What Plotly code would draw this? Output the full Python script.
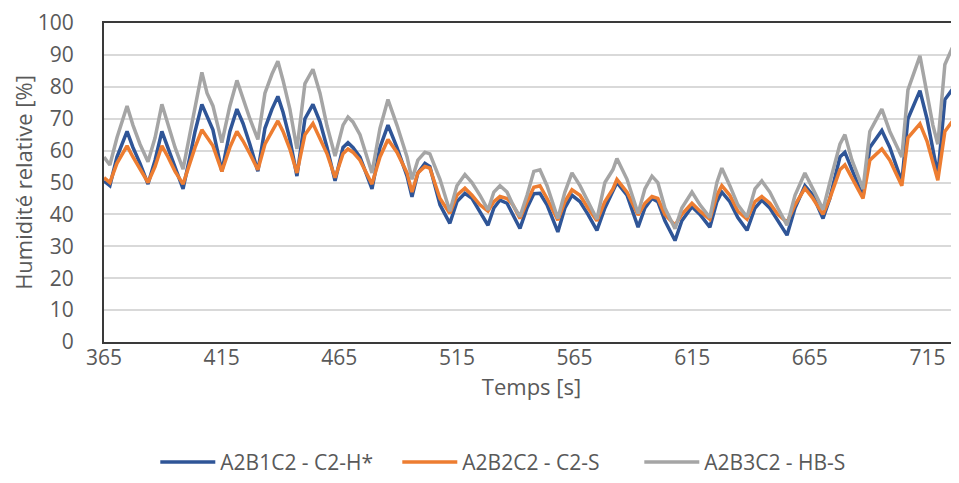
import plotly.graph_objects as go

temps = [365.0, 367.5, 370.5, 374.8, 377.3, 380.3, 383.7, 386.7, 389.6, 392.2,
         395.2, 398.6, 401.5, 403.7, 406.6, 408.8, 411.3, 415.1, 418.5, 421.5,
         424.1, 427.0, 430.4, 433.4, 436.4, 438.9, 441.1, 444.0, 447.0, 450.4,
         453.8, 456.8, 459.8, 463.2, 466.6, 468.7, 470.8, 473.8, 478.9, 482.3,
         485.7, 489.5, 493.8, 495.9, 498.4, 501.4, 503.5, 507.8, 512.0, 515.0,
         518.4, 521.4, 524.8, 528.2, 530.7, 533.3, 536.3, 538.8, 541.8, 544.8,
         547.7, 550.3, 553.3, 557.9, 560.9, 563.9, 567.3, 570.7, 574.5, 577.9,
         581.3, 583.0, 587.3, 592.0, 594.9, 597.9, 600.4, 603.4, 607.7, 610.6,
         614.9, 618.3, 622.5, 625.5, 627.6, 631.0, 634.4, 638.3, 641.7, 644.6,
         648.0, 651.4, 655.3, 658.7, 662.9, 666.3, 670.6, 673.5, 677.8, 679.9,
         682.9, 687.6, 690.5, 695.6, 699.0, 704.1, 706.7, 711.8, 714.8, 717.3,
         719.4, 722.4, 725.4, 728.4]

hr_a2b1c2 = [50.5, 49, 58, 66, 61, 56, 49.5, 57, 66, 61,
             55, 48, 58, 66, 74.5, 71, 66.5, 53.5, 66, 73,
             68.5, 62, 53.5, 67, 73, 77, 72, 63.5, 52, 70,
             74.5, 69, 61, 50.5, 61, 62.5, 61, 58, 48, 61,
             68, 61, 52, 45.5, 53, 56, 55, 43, 37.2, 44,
             46.6, 45, 41, 36.6, 42, 44.5, 43.5, 40, 35.6, 42,
             46.5, 46.6, 43, 34.5, 42, 46, 44, 40, 35, 42,
             47.5, 50, 46, 36, 42, 45, 44, 38, 31.8, 38,
             42.4, 40, 36, 44, 47, 44, 39, 35, 42, 44.5,
             42, 38, 33.5, 42, 49, 46, 38.7, 45, 58, 59.5,
             54, 45.5, 61, 66.3, 61, 50.2, 70, 78.8, 70, 60,
             52.3, 76, 79, 80]

hr_a2b2c2 = [51.5, 50, 56, 61.5, 58, 54, 50, 55, 61.5, 58,
             53.5, 49.5, 56, 61, 66.5, 64, 61.5, 53.5, 61, 66,
             63, 59, 54, 62, 66, 69.3, 66, 60.5, 53, 65,
             68.5, 64, 59, 51.5, 59, 60.5, 59.5, 57, 49.5, 58,
             63.5, 59.5, 53, 47, 53, 55, 54.5, 45, 40.3, 46,
             48.2, 46, 43, 41, 44, 45.6, 45, 43, 38.7, 44,
             48.5, 49, 45, 38.2, 44, 47.7, 46, 42, 38, 44,
             48, 51, 47, 39.8, 43.5, 45.6, 45, 40, 36.6, 40,
             43.5, 41, 38.5, 46, 49, 46, 41, 38.5, 44, 45.6,
             43.5, 40, 37.5, 43, 48.2, 45, 40, 45, 54, 55.5,
             51.5, 45, 57, 60.5, 57, 49, 64, 68.4, 63, 56,
             50.7, 66, 69, 70]

hr_a2b3c2 = [58, 55.5, 64, 74, 68, 62, 56.5, 64, 74.5, 68,
             61, 54.2, 65, 73, 84.5, 78, 74, 62.5, 74, 82,
             76, 70, 63.5, 78, 84, 88, 82, 73, 60.5, 81,
             85.5, 78, 67.7, 58.3, 68, 70.5, 69, 65, 53, 67,
             76, 68, 58, 51, 57, 59.5, 59, 51, 41, 49,
             52.5, 50, 46, 41.4, 47, 49, 47, 43, 39.3, 46,
             53.5, 54, 49, 38.7, 47, 53, 49, 44, 38.5, 50,
             54, 57.5, 51, 40.3, 48, 52, 50, 42, 35.5, 42,
             47, 43, 39, 50, 54.5, 49, 43, 39.2, 48, 50.5,
             47, 42, 36.6, 46, 53, 48, 41.5, 50, 62, 65,
             57, 48, 66, 73, 66, 58, 79, 89.7, 78, 68,
             62, 87, 92, 93]

series_names = ["A2B1C2 - C2-H*", "A2B2C2 - C2-S", "A2B3C2 - HB-S"]
series_values = [hr_a2b1c2, hr_a2b2c2, hr_a2b3c2]
series_colors = ["#2F5597", "#ED7D31", "#A5A5A5"]

x_ticks = [365, 415, 465, 515, 565, 615, 665, 715]
y_ticks = [0, 10, 20, 30, 40, 50, 60, 70, 80, 90, 100]

font_family = "Open Sans, Lato, DejaVu Sans, sans-serif"
text_color = "#595959"

fig = go.Figure()
for name, vals, col in zip(series_names, series_values, series_colors):
    fig.add_trace(go.Scatter(
        x=temps, y=vals, name=name, mode="lines",
        line=dict(color=col, width=3.5),
    ))

fig.update_layout(
    width=959, height=483,
    margin=dict(l=96, r=8, t=15, b=147),
    paper_bgcolor="white", plot_bgcolor="white",
    font=dict(family=font_family, color=text_color, size=20),
    showlegend=True,
    legend=dict(
        orientation="h", x=0.06, xanchor="left", y=-0.377, yanchor="middle",
        font=dict(size=21, color=text_color), itemwidth=55,
        entrywidth=172, entrywidthmode="pixels",
        traceorder="normal",
    ),
)

fig.update_xaxes(
    range=[365, 728.4], tickvals=x_ticks, ticktext=[str(t) for t in x_ticks],
    showgrid=False, zeroline=False, automargin=False,
    showline=True, linecolor="#3A3A3A", linewidth=2, mirror=True,
    ticks="", ticklen=0, tickfont=dict(size=21, color=text_color), ticklabelstandoff=-4,
    title=dict(text="Temps [s]", font=dict(size=22, color=text_color), standoff=0),
)
fig.update_yaxes(
    range=[0, 100], tickvals=y_ticks,
    showgrid=True, gridcolor="#D9D9D9", gridwidth=1.5, zeroline=False, automargin=False,
    showline=True, linecolor="#3A3A3A", linewidth=2, mirror=False,
    ticks="", ticklen=0, tickfont=dict(size=21, color=text_color), ticklabelstandoff=24,
    title=dict(text="Humidité relative [%]", font=dict(size=22, color=text_color), standoff=12),
)

fig.write_html("out.html")
